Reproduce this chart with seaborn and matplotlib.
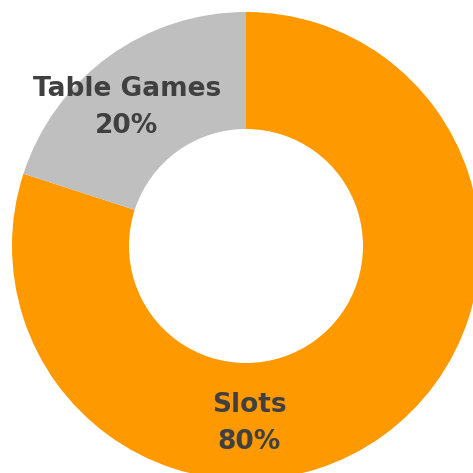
import matplotlib
matplotlib.use("Agg")
import matplotlib.pyplot as plt
import seaborn as sns

categories = ["Slots", "Table Games"]
shares = [80, 20]
colors = ["#FF9900", "#BFBFBF"]
# label anchor positions (in units of the outer radius)
label_x = [0.013, -0.509]
label_y = [-0.757, 0.592]

sns.set_theme(style="white")
plt.rcParams["font.family"] = ["DejaVu Sans"]

fig = plt.figure(figsize=(4.73, 4.73), dpi=100)
ax = fig.add_axes([0, 0, 1, 1])

ax.pie(shares, colors=colors, startangle=90, counterclock=False,
       radius=1.0, wedgeprops=dict(width=0.5, linewidth=0))

for name, val, x, y in zip(categories, shares, label_x, label_y):
    ax.text(x, y, f"{name}\n{val}%", ha="center", va="center",
            fontsize=19, fontweight="bold", color="#404040",
            linespacing=1.55)

ax.set_xlim(-1.0513, 0.9701)
ax.set_ylim(-0.9701, 1.0513)
ax.set_aspect("auto")
ax.axis("off")

fig.savefig("out.png", dpi=100)
